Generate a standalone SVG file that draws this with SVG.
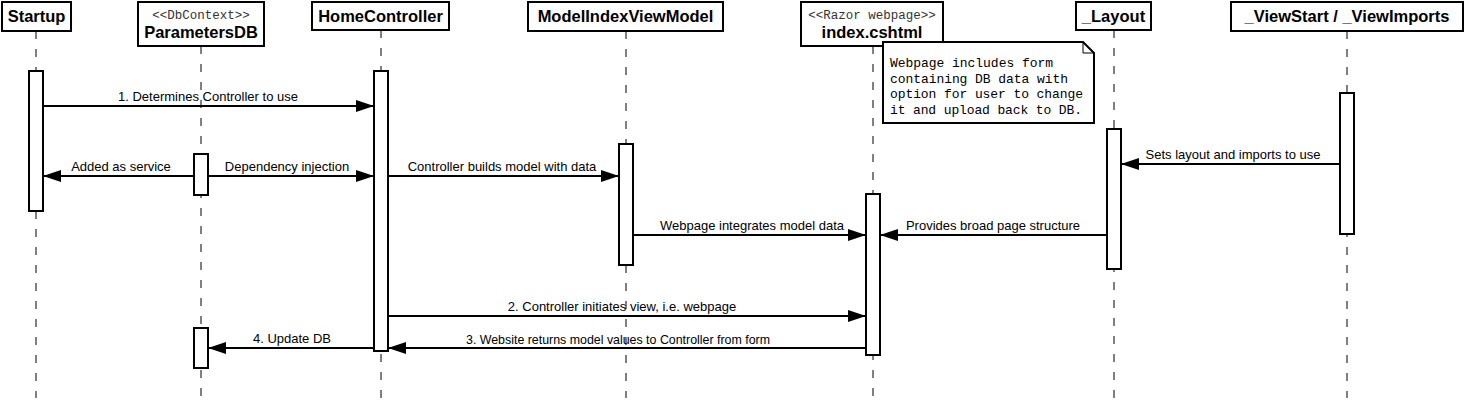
<svg xmlns="http://www.w3.org/2000/svg" width="1466" height="406" viewBox="0 0 1466 406">
<style>
.hdr{fill:#fff;stroke:#000;stroke-width:2}
.name{font-family:"Liberation Sans",Arial,sans-serif;font-weight:bold;font-size:16.5px;fill:#000;text-anchor:middle}
.st{font-family:"Liberation Mono","Courier New",monospace;font-size:12.5px;fill:#333;text-anchor:middle}
.life{stroke:#000;stroke-width:1;stroke-dasharray:8 10;fill:none}
.act{fill:#fff;stroke:#000;stroke-width:2}
.msg{stroke:#000;stroke-width:2;fill:none}
.lbl{font-family:"Liberation Sans",Arial,sans-serif;font-size:13px;fill:#000;text-anchor:middle}
.note{fill:#fff;stroke:#000;stroke-width:2}
.ntxt{font-family:"Liberation Mono","Courier New",monospace;font-size:13px;fill:#000}
</style>
<defs>
<marker id="ah" markerUnits="userSpaceOnUse" markerWidth="18" markerHeight="12" refX="18" refY="6" orient="auto">
<path d="M0,0 L18,6 L0,12 Z" fill="#000"/>
</marker>
</defs>
<rect width="1466" height="406" fill="#fff"/>

<g id="lifelines">
<line class="life" x1="36" y1="31" x2="36" y2="398"/>
<line class="life" x1="201" y1="46" x2="201" y2="398"/>
<line class="life" x1="381" y1="30" x2="381" y2="398"/>
<line class="life" x1="626" y1="31" x2="626" y2="398"/>
<line class="life" x1="873" y1="46" x2="873" y2="398"/>
<line class="life" x1="1114" y1="30" x2="1114" y2="398"/>
<line class="life" x1="1347" y1="31" x2="1347" y2="398"/>
</g>

<g id="node-startup">
<rect class="hdr" x="2" y="2" width="69" height="29"/>
<text class="name" x="36.5" y="22">Startup</text>
<rect class="act" x="29" y="71" width="14" height="140"/>
</g>

<g id="node-parametersdb">
<rect class="hdr" x="138" y="2" width="126" height="44"/>
<text class="st" x="201" y="19">&lt;&lt;DbContext&gt;&gt;</text>
<text class="name" x="201" y="38">ParametersDB</text>
<rect class="act" x="194" y="154" width="14" height="41"/>
<rect class="act" x="194" y="328" width="14" height="40"/>
</g>

<g id="node-homecontroller">
<rect class="hdr" x="312" y="2" width="137" height="28"/>
<text class="name" x="380.5" y="22">HomeController</text>
<rect class="act" x="374" y="71" width="14" height="280"/>
</g>

<g id="node-modelindexviewmodel">
<rect class="hdr" x="528" y="2" width="195" height="29"/>
<text class="name" x="625.5" y="22">ModelIndexViewModel</text>
<rect class="act" x="619" y="144" width="14" height="121"/>
</g>

<g id="node-index">
<rect class="hdr" x="801" y="2" width="142" height="44"/>
<text class="st" x="872" y="19">&lt;&lt;Razor webpage&gt;&gt;</text>
<text class="name" x="872" y="38">index.cshtml</text>
<rect class="act" x="866" y="194" width="14" height="161"/>
</g>

<g id="node-layout">
<rect class="hdr" x="1076" y="2" width="75" height="28"/>
<text class="name" x="1113.5" y="22">_Layout</text>
<rect class="act" x="1107" y="129" width="14" height="140"/>
</g>

<g id="node-viewstart">
<rect class="hdr" x="1231" y="2" width="232" height="29"/>
<text class="name" x="1347" y="22">_ViewStart / _ViewImports</text>
<rect class="act" x="1340" y="93" width="14" height="141"/>
</g>

<g id="note">
<path class="note" d="M883,42 L1083,42 L1094,53 L1094,123 L883,123 Z"/>
<path d="M1083,42 L1083,53 L1094,53" fill="none" stroke="#000" stroke-width="1"/>
<text class="ntxt" x="890" y="67" textLength="163" lengthAdjust="spacing">Webpage includes form</text>
<text class="ntxt" x="890" y="83" textLength="178" lengthAdjust="spacing">containing DB data with</text>
<text class="ntxt" x="890" y="98" textLength="193" lengthAdjust="spacing">option for user to change</text>
<text class="ntxt" x="890" y="114" textLength="192" lengthAdjust="spacing">it and upload back to DB.</text>
</g>

<g id="connectors">
<line class="msg" x1="43" y1="106" x2="374" y2="106" marker-end="url(#ah)"/>
<text class="lbl" x="208" y="101">1. Determines Controller to use</text>

<line class="msg" x1="194" y1="176" x2="43" y2="176" marker-end="url(#ah)"/>
<text class="lbl" x="121" y="171">Added as service</text>

<line class="msg" x1="208" y1="176" x2="374" y2="176" marker-end="url(#ah)"/>
<text class="lbl" x="287" y="171">Dependency injection</text>

<line class="msg" x1="388" y1="176" x2="619" y2="176" marker-end="url(#ah)"/>
<text class="lbl" x="502" y="171">Controller builds model with data</text>

<line class="msg" x1="1340" y1="164" x2="1121" y2="164" marker-end="url(#ah)"/>
<text class="lbl" x="1233" y="159">Sets layout and imports to use</text>

<line class="msg" x1="633" y1="235" x2="866" y2="235" marker-end="url(#ah)"/>
<text class="lbl" x="752" y="230">Webpage integrates model data</text>

<line class="msg" x1="1107" y1="235" x2="880" y2="235" marker-end="url(#ah)"/>
<text class="lbl" x="993" y="230">Provides broad page structure</text>

<line class="msg" x1="388" y1="316" x2="866" y2="316" marker-end="url(#ah)"/>
<text class="lbl" x="622" y="311">2. Controller initiates view, i.e. webpage</text>

<line class="msg" x1="866" y1="348" x2="388" y2="348" marker-end="url(#ah)"/>
<text class="lbl" x="618" y="344" textLength="304" lengthAdjust="spacingAndGlyphs">3. Website returns model values to Controller from form</text>

<line class="msg" x1="374" y1="348" x2="208" y2="348" marker-end="url(#ah)"/>
<text class="lbl" x="292" y="343">4. Update DB</text>
</g>
</svg>
